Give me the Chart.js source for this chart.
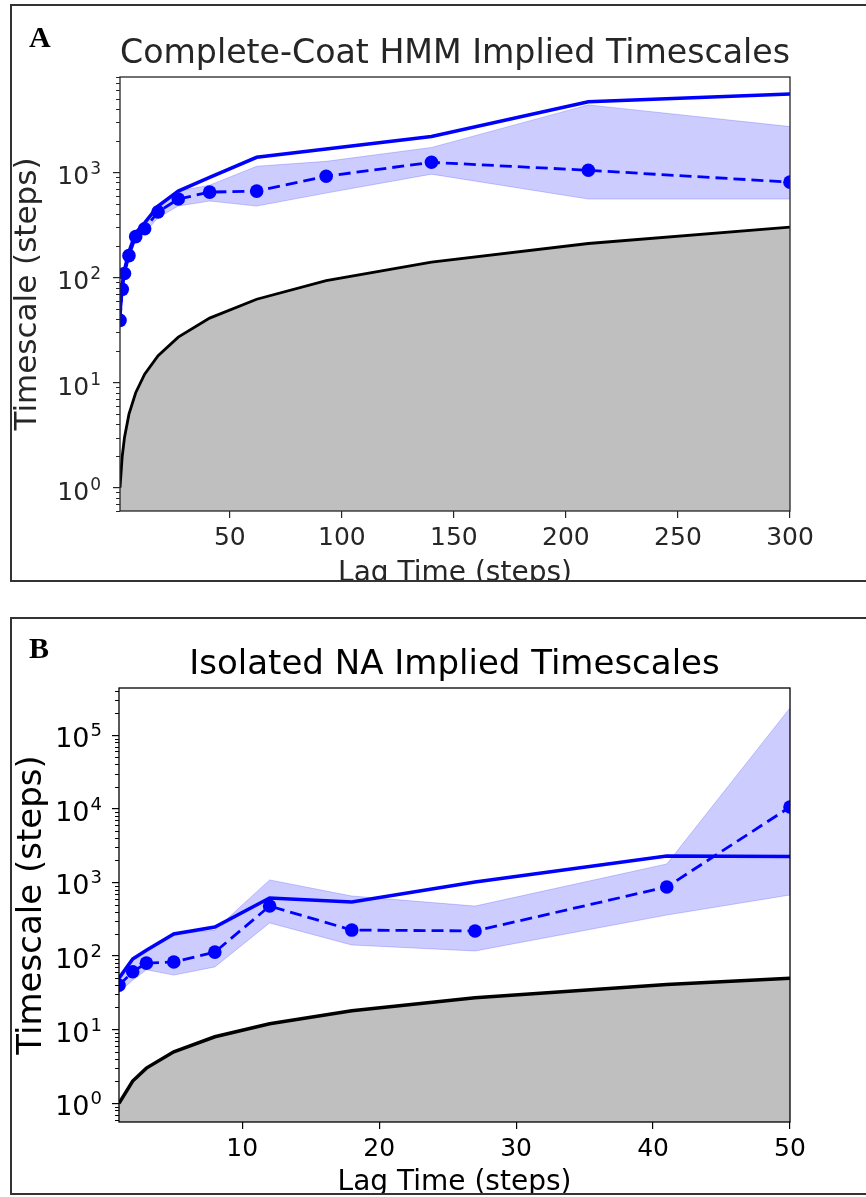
<!DOCTYPE html>
<html><head><meta charset="utf-8">
<script src="https://cdn.jsdelivr.net/npm/chart.js@4/dist/chart.umd.min.js"></script>
<style>
html,body{margin:0;padding:0;background:#fff;width:866px;height:1197px;overflow:hidden;position:relative;}
.wrap{position:absolute;left:0;width:866px;overflow:hidden;}
#wa{top:0;height:582px;}
#wb{top:600px;height:595px;}
.frame{position:absolute;border:2px solid #333;border-right:none;pointer-events:none;}
#fa{left:10px;top:4px;width:870px;height:574px;}
#fb{left:10px;top:617px;width:870px;height:574px;}
.tag{position:absolute;font-family:'Liberation Serif','Times New Roman',serif;font-weight:bold;font-size:30px;line-height:30px;color:#000;}
#ta{left:29px;top:22px;}
#tb{left:29px;top:633px;}
</style></head><body>
<div class="wrap" id="wa"><canvas id="ca" width="866" height="600"></canvas></div>
<div class="wrap" id="wb"><canvas id="cb" width="866" height="600"></canvas></div>
<div class="frame" id="fa"></div>
<div class="frame" id="fb"></div>
<div class="tag" id="ta">A</div>
<div class="tag" id="tb">B</div>
<script>
// ---------- Panel A data ----------
const lagA = [1, 2, 3, 5, 8, 12, 18, 27, 41, 62, 93, 140, 210, 300];
const meanA = [39, 77, 109, 161, 244, 290, 420, 556, 647, 662, 916, 1243, 1044, 805];
const mleA = [45, 85, 118, 175, 265, 330, 477, 662, 893, 1387, 1660, 2186, 4680, 5560];
const upperA = [42, 82, 118, 175, 265, 320, 470, 662, 754, 1140, 1270, 1720, 4370, 2720];
const lowerA = [37, 72, 100, 150, 225, 265, 370, 477, 532, 477, 634, 958, 556, 556];
const lagLineA = [1, 2, 3, 5, 8, 12, 18, 27, 41, 62, 93, 140, 210, 300];
const xTicksA = [50, 100, 150, 200, 250, 300];
const yTicksA = [1, 10, 100, 1000];
const yTickBaseA = ['10', '10', '10', '10'];
const yTickExpA = ['0', '1', '2', '3'];

// ---------- Panel B data ----------
const lagB = [1, 2, 3, 5, 8, 12, 18, 27, 41, 50];
const meanB = [40, 61, 80, 83, 113, 477, 225, 219, 866, 10570];
const mleB = [50, 91, 120, 199, 248, 614, 542, 1012, 2285, 2250];
const upperB = [55, 97, 120, 199, 225, 1080, 653, 477, 1778, 234000];
const lowerB = [32, 47, 65, 55, 71, 281, 141, 117, 360, 674];
const lagLineB = [1, 2, 3, 5, 8, 12, 18, 27, 41, 50];
const xTicksB = [10, 20, 30, 40, 50];
const yTicksB = [1, 10, 100, 1000, 10000, 100000];
const yTickBaseB = ['10', '10', '10', '10', '10', '10'];
const yTickExpB = ['0', '1', '2', '3', '4', '5'];

const pts = (xs, ys) => xs.map((x, i) => ({x: x, y: ys[i]}));

const boxPlugin = {
  id: 'box',
  afterDatasetsDraw(chart, args, opts) {
    const {ctx, chartArea: a, scales} = chart;
    const y = scales.y;
    ctx.save();
    ctx.strokeStyle = opts.color;
    ctx.lineWidth = 1;
    const e0 = Math.floor(Math.log10(y.min)), e1 = Math.ceil(Math.log10(y.max));
    for (let e = e0; e <= e1; e++) {
      for (let m = 2; m <= 9; m++) {
        const v = m * Math.pow(10, e);
        if (v < y.min || v > y.max) continue;
        const p = Math.round(y.getPixelForValue(v)) + 0.5;
        ctx.beginPath(); ctx.moveTo(a.left - 4, p); ctx.lineTo(a.left, p); ctx.stroke();
      }
    }
    ctx.lineWidth = opts.width;
    ctx.strokeRect(a.left, a.top, a.right - a.left, a.bottom - a.top);
    // y tick labels with true superscripts
    const c = opts.cfg;
    ctx.fillStyle = opts.color;
    ctx.textAlign = 'right';
    ctx.textBaseline = 'alphabetic';
    c.yTicks.forEach((v, i) => {
      const p = y.getPixelForValue(v);
      const xr = a.left - 7 - c.yTickPad;
      ctx.font = c.expSize + 'px "DejaVu Sans"';
      const ew = ctx.measureText(c.yTickExp[i]).width;
      ctx.fillText(c.yTickExp[i], xr, p + c.expDy);
      ctx.font = c.ytickSize + 'px "DejaVu Sans"';
      ctx.fillText(c.yTickBase[i], xr - ew - 1, p + c.baseDy);
    });
    ctx.restore();
  }
};

function makeChart(id, cfg) {
  const blue = '#0000ff';
  const datasets = [
    {label: 'mean', data: pts(cfg.lag, cfg.mean), borderColor: blue, backgroundColor: blue,
     borderWidth: 2.8, borderDash: [12, 6], pointRadius: 6.8, pointBackgroundColor: blue,
     pointBorderWidth: 0, fill: false, order: 1, clip: 0},
    {label: 'mle', data: pts(cfg.lag, cfg.mle), borderColor: blue, borderWidth: 3.5,
     pointRadius: 0, fill: false, order: 2, clip: 0},
    {label: 'upper', data: pts(cfg.lag, cfg.upper), borderColor: 'rgba(0,0,255,0.2)', borderWidth: 1,
     backgroundColor: 'rgba(0,0,255,0.2)', pointRadius: 0, fill: '+1', order: 3, clip: 0},
    {label: 'lower', data: pts(cfg.lag, cfg.lower), borderColor: 'rgba(0,0,255,0.2)', borderWidth: 1,
     pointRadius: 0, fill: false, order: 4, clip: 0},
    {label: 'lag', data: pts(cfg.lag, cfg.lagLine), borderColor: '#000', borderWidth: cfg.blackW,
     backgroundColor: '#bfbfbf', pointRadius: 0, fill: 'start', order: 5, clip: 0}
  ];
  return new Chart(document.getElementById(id), {
    type: 'line',
    data: {datasets: datasets},
    plugins: [boxPlugin],
    options: {
      responsive: false, animation: false, devicePixelRatio: 1,
      layout: {padding: {left: 0, right: 866 - cfg.right, top: 0, bottom: 0}},
      elements: {line: {tension: 0}},
      plugins: {
        legend: {display: false}, tooltip: {enabled: false},
        box: {color: cfg.color, width: 1.3, cfg: cfg},
        title: {display: true, fullSize: false, text: cfg.title, color: cfg.color,
          font: {family: 'DejaVu Sans', size: cfg.titleSize, weight: 'normal', lineHeight: 1.2},
          padding: {top: cfg.titleTop, bottom: cfg.titleBottom}}
      },
      scales: {
        x: {
          type: 'linear', min: cfg.xmin, max: cfg.xmax,
          afterBuildTicks: s => { s.ticks = cfg.xTicks.map(v => ({value: v})); },
          afterFit: s => { s.height = cfg.xAxisH; },
          border: {display: false},
          grid: {display: true, drawOnChartArea: false, drawTicks: true, tickLength: 7, color: cfg.color, lineWidth: 1.2},
          ticks: {color: cfg.color, font: {family: 'DejaVu Sans', size: cfg.tickSize, lineHeight: 1.2},
            padding: cfg.xTickPad, maxRotation: 0, autoSkip: false, callback: v => String(v)},
          title: {display: true, text: 'Lag Time (steps)', color: cfg.color,
            font: {family: 'DejaVu Sans', size: cfg.labelSize, lineHeight: 1},
            padding: {top: 0, bottom: cfg.xTitlePad}}
        },
        y: {
          type: 'logarithmic', min: cfg.ymin, max: cfg.ymax,
          afterBuildTicks: s => { s.ticks = cfg.yTicks.map(v => ({value: v, major: true})); },
          afterFit: s => { s.width = cfg.yAxisW; },
          border: {display: false},
          grid: {display: true, drawOnChartArea: false, drawTicks: true, tickLength: 7, color: cfg.color, lineWidth: 1.2},
          ticks: {display: false, autoSkip: false},
          title: {display: true, text: 'Timescale (steps)', color: cfg.color,
            font: {family: 'DejaVu Sans', size: cfg.ylabelSize, lineHeight: 1.2},
            padding: {top: cfg.yTitlePad, bottom: 0}}
        }
      }
    }
  });
}

makeChart('ca', {
  lag: lagA, mean: meanA, mle: mleA, upper: upperA, lower: lowerA, lagLine: lagLineA,
  xTicks: xTicksA, yTicks: yTicksA, yTickBase: yTickBaseA, yTickExp: yTickExpA,
  xmin: 1, xmax: 300, ymin: 0.647, ymax: 8050,
  title: 'Complete-Coat HMM Implied Timescales', color: '#262626',
  titleSize: 34, titleTop: 34, titleBottom: 2.2,
  right: 790, yAxisW: 120, xAxisH: 89,
  tickSize: 25, ytickSize: 25, expSize: 17, expDy: 2, baseDy: 12,
  labelSize: 28, ylabelSize: 31,
  xTickPad: 5, yTickPad: 12, xTitlePad: 12, yTitlePad: 9.4, blackW: 2.8
});

makeChart('cb', {
  lag: lagB, mean: meanB, mle: mleB, upper: upperB, lower: lowerB, lagLine: lagLineB,
  xTicks: xTicksB, yTicks: yTicksB, yTickBase: yTickBaseB, yTickExp: yTickExpB,
  xmin: 1, xmax: 50, ymin: 0.556, ymax: 437000,
  title: 'Isolated NA Implied Timescales', color: '#000',
  titleSize: 34, titleTop: 44.4, titleBottom: 2.8,
  right: 790, yAxisW: 119, xAxisH: 78,
  tickSize: 25, ytickSize: 27, expSize: 18, expDy: 1, baseDy: 12,
  labelSize: 28, ylabelSize: 34,
  xTickPad: 5, yTickPad: 10, xTitlePad: 3, yTitlePad: 11.6, blackW: 3.5
});
</script>
</body></html>
